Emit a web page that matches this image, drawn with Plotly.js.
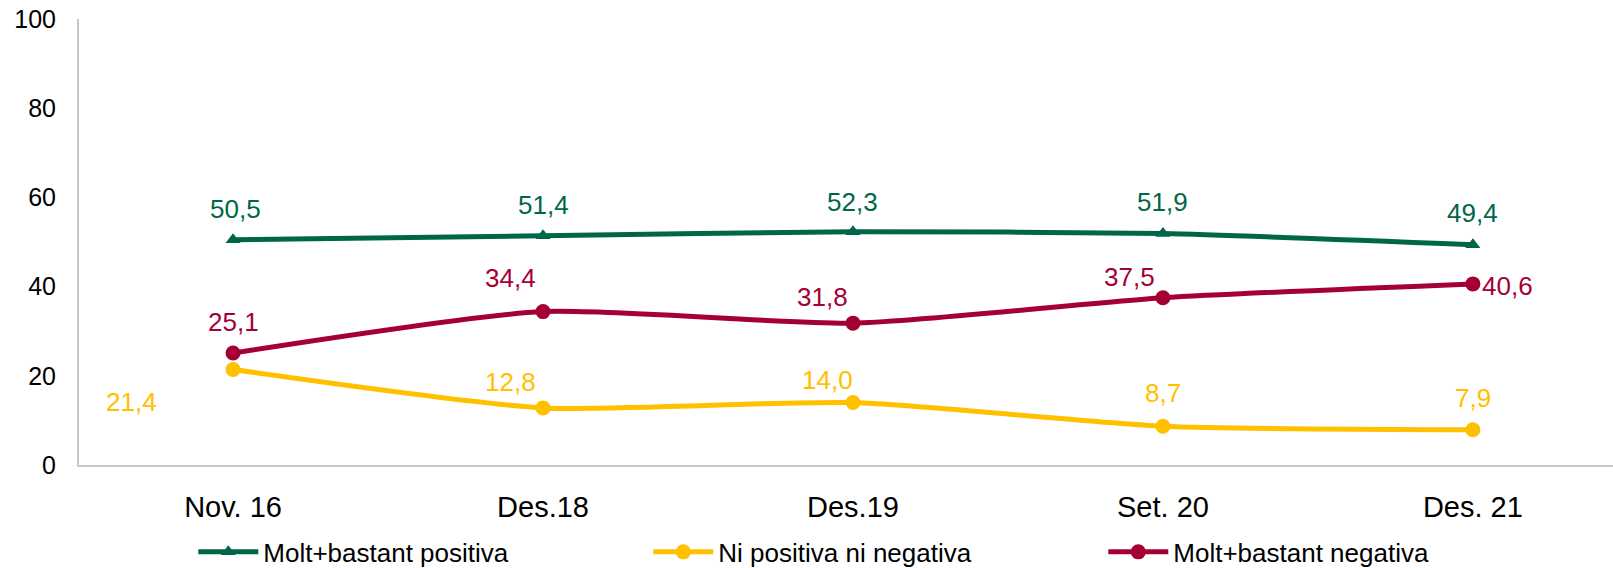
<!DOCTYPE html>
<html>
<head>
<meta charset="utf-8">
<script src="https://cdn.plot.ly/plotly-3.0.1.min.js"></script>
<style>
  html, body { margin: 0; padding: 0; background: #fff; overflow: hidden; }
  #chart { width: 1613px; height: 568px; }
</style>
</head>
<body>
<div id="chart"></div>
<script>
// ---- data ----
const categories = ["Nov. 16", "Des.18", "Des.19", "Set. 20", "Des. 21"];
const positiva = [50.5, 51.4, 52.3, 51.9, 49.4];
const neutra = [21.4, 12.8, 14.0, 8.7, 7.9];
const negativa = [25.1, 34.4, 31.8, 37.5, 40.6];
const seriesNames = ["Molt+bastant positiva", "Ni positiva ni negativa", "Molt+bastant negativa"];

// ---- styling ----
const colors = ["#00664A", "#FFC000", "#A50034"];
const FONT = "'Liberation Sans', Arial, sans-serif";
// label offsets (px) relative to the point, per series
const labelOffsets = [
  [[2, -31], [0, -31], [0, -30], [0, -32], [0, -32]],
  [[-102, 32], [-33, -26], [-25, -23], [0, -33], [0, -32]],
  [[0, -31], [-33, -34], [-30, -26], [-33, -21], [35, 2]]
];

const allSeries = [positiva, neutra, negativa];
const symbols = ["triangle-up", "circle", "circle"];
const sizes = [13, 15, 15];

const traces = allSeries.map((vals, i) => ({
  type: "scatter",
  mode: "lines+markers",
  x: categories,
  y: vals,
  name: seriesNames[i],
  line: { color: colors[i], width: 5, shape: "spline", smoothing: 0.6 },
  marker: { color: colors[i], size: sizes[i], symbol: symbols[i] },
  cliponaxis: false,
  hoverinfo: "x+y"
}));

const annotations = [];
allSeries.forEach((vals, i) => {
  vals.forEach((v, j) => {
    annotations.push({
      x: categories[j], y: v, xref: "x", yref: "y",
      text: v.toFixed(1).replace(".", ","),
      showarrow: false,
      xanchor: "center", yanchor: "middle",
      xshift: labelOffsets[i][j][0],
      yshift: -labelOffsets[i][j][1],
      font: { family: FONT, size: 26, color: colors[i] }
    });
  });
});

const layout = {
  width: 1613, height: 568,
  margin: { l: 79, r: 0, t: 19, b: 103, pad: 0, autoexpand: false },
  paper_bgcolor: "#ffffff",
  plot_bgcolor: "#ffffff",
  showlegend: true,
  legend: {
    orientation: "h",
    x: 0.0745, xanchor: "left",
    y: -0.195, yanchor: "middle",
    font: { family: FONT, size: 26, color: "#000000" },
    itemwidth: 60,
    entrywidth: 380,
    entrywidthmode: "pixels",
    traceorder: "normal"
  },
  xaxis: {
    type: "category",
    range: [-0.497, 4.452],
    automargin: false,
    showgrid: false, zeroline: false,
    showline: true, linecolor: "#C8C8C8", linewidth: 2,
    ticks: "", ticklabelstandoff: 15,
    tickfont: { family: FONT, size: 29, color: "#000000" },
    fixedrange: true
  },
  yaxis: {
    range: [0, 100],
    automargin: false,
    tickvals: [0, 20, 40, 60, 80, 100],
    ticktext: ["0", "20", "40", "60", "80", "100"],
    showgrid: false, zeroline: false,
    showline: true, linecolor: "#C8C8C8", linewidth: 2,
    ticks: "", ticklabelstandoff: 16,
    tickfont: { family: FONT, size: 25, color: "#000000" },
    fixedrange: true
  },
  annotations: annotations
};

Plotly.newPlot("chart", traces, layout, { displayModeBar: false, staticPlot: true });
</script>
</body>
</html>
